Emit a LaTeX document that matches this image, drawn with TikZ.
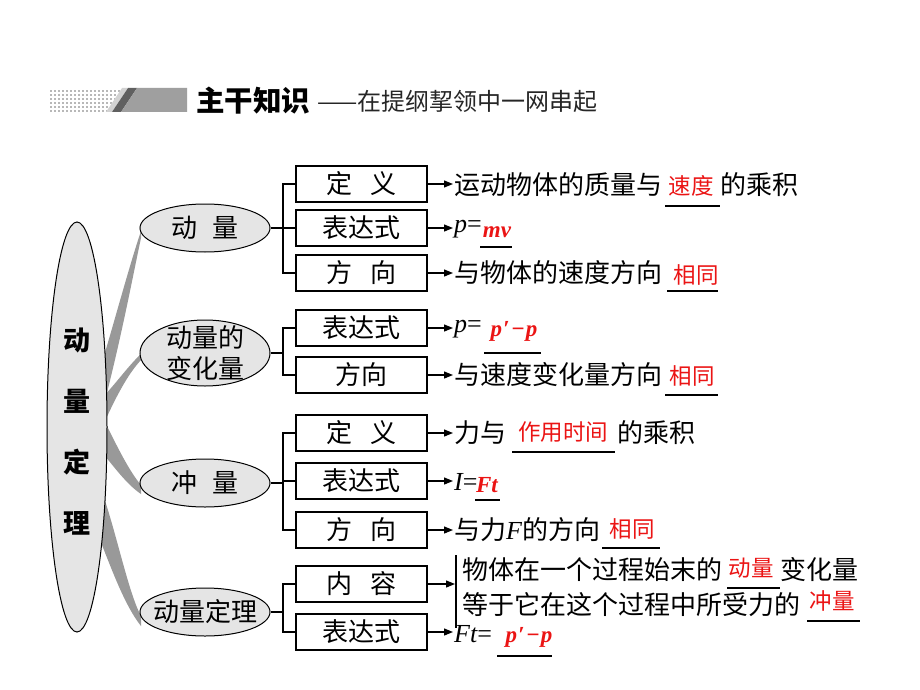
\documentclass[tikz,border=0pt]{standalone}
\usepackage{fontspec}
\setmainfont{Liberation Serif}
\newfontfamily\cjk{Noto Sans CJK SC}
\usetikzlibrary{shapes.geometric,arrows.meta}
\definecolor{ansred}{RGB}{235,20,20}
\definecolor{ellfill}{gray}{0.9}
\definecolor{wedgec}{gray}{0.6}
\definecolor{dotc}{gray}{0.72}
\begin{document}
\begin{tikzpicture}[x=1pt,y=-1pt,
  cjkt/.style={font=\cjk\fontsize{26}{30}\selectfont, inner sep=0pt},
  stepbox/.style={draw, line width=1.2pt, fill=white, minimum width=131pt, minimum height=36pt, inner sep=0pt, cjkt},
  subell/.style={ellipse, draw, line width=1pt, fill=ellfill, minimum width=130pt, inner sep=0pt},
  txt/.style={cjkt, anchor=west},
  lat/.style={font=\rmfamily\fontsize{26}{30}\selectfont, inner sep=0pt, anchor=west},
  ans/.style={font=\cjk\fontsize{22.5}{26}\selectfont, text=ansred, inner sep=0pt},
  anslat/.style={font=\rmfamily\bfseries\itshape\fontsize{23}{26}\selectfont, text=ansred, inner sep=0pt},
  blank/.style={line width=1.1pt},
  arr/.style={line width=1.2pt, -{Triangle[length=9pt,width=7pt]}, shorten >=1pt},
  br/.style={line width=1.1pt}
]
\useasboundingbox (0,0) rectangle (920,690);
\fill[white] (0,0) rectangle (920,690);

% ---------- header ----------
\foreach \xx in {50,54,...,118} {
  \foreach \yy in {90,94,...,110} {
    \fill[dotc] (\xx,\yy) rectangle ++(2.4,1.6);
  }
}
\fill[gray!35] (106,112) -- (112,112) -- (128,88) -- (122,88) -- cycle;
\fill[gray!75!black] (112,112) -- (121,112) -- (137,88) -- (128,88) -- cycle;
\fill[gray!75] (121,112) -- (187,112) -- (187,88) -- (137,88) -- cycle;
\node[anchor=west, font=\cjk\bfseries\fontsize{28.5}{32}\selectfont, inner sep=0pt] (h1) at (196,101) {主干知识};
\node[anchor=west, font=\cjk\fontsize{24}{28}\selectfont, inner sep=0pt, text=black!85] (h2) at (317,101) {——在提纲挈领中一网串起};

% ---------- wedges ----------
\fill[wedgec] (98,376) .. controls (115,320) and (128,270) .. (141,231) -- (141,238) .. controls (132,280) and (121,340) .. (101,416) -- cycle;
\fill[wedgec] (100,400) .. controls (115,385) and (128,366) .. (141,354) -- (141,360) .. controls (128,374) and (116,396) .. (101,430) -- cycle;
\fill[wedgec] (100,412) .. controls (114,440) and (128,470) .. (141,485) -- (141,494) .. controls (126,484) and (112,464) .. (100,450) -- cycle;
\fill[wedgec] (100,486) .. controls (116,530) and (128,592) .. (141,616) -- (141,626) .. controls (125,606) and (112,570) .. (100,540) -- cycle;

% ---------- main ellipse ----------
\node[ellipse, draw, line width=1pt, fill=ellfill, minimum width=60pt, minimum height=410pt, inner sep=0pt] (main) at (77,427) {};
\node[font=\cjk\bfseries\fontsize{27}{61}\selectfont, align=center, inner sep=0pt] (maint) at (77,432) {动\\量\\定\\理};

% ---------- sub ellipses ----------
\node[subell, minimum height=48pt] (s1) at (205,228) {};
\node[cjkt] (s1t) at (s1) {动\hspace{0.6em}量};
\node[subell, minimum height=66pt] (s2) at (205,353) {};
\node[cjkt, align=center, font=\cjk\fontsize{26}{31}\selectfont] (s2t) at (s2) {动量的\\变化量};
\node[subell, minimum height=48pt] (s3) at (205,483) {};
\node[cjkt] (s3t) at (s3) {冲\hspace{0.6em}量};
\node[subell, minimum height=48pt] (s4) at (205,612) {};
\node[cjkt] (s4t) at (s4) {动量定理};

% ---------- boxes ----------
\node[stepbox] (b11) at (361.5,184) {定\hspace{0.7em}义};
\node[stepbox] (b12) at (361.5,228) {表达式};
\node[stepbox] (b13) at (361.5,273) {方\hspace{0.7em}向};
\node[stepbox] (b21) at (361.5,328) {表达式};
\node[stepbox] (b22) at (361.5,375) {方向};
\node[stepbox] (b31) at (361.5,433) {定\hspace{0.7em}义};
\node[stepbox] (b32) at (361.5,481) {表达式};
\node[stepbox] (b33) at (361.5,530) {方\hspace{0.7em}向};
\node[stepbox] (b41) at (361.5,584) {内\hspace{0.7em}容};
\node[stepbox] (b42) at (361.5,632) {表达式};

% ---------- brackets ----------
\coordinate (j1) at (283,228);
\coordinate (j2) at (283,353);
\coordinate (j3) at (283,483);
\coordinate (j4) at (283,612);
\draw[br] (s1.east) -- (j1);
\draw[br] (b11.west) -| (j1) |- (b13.west);
\draw[br] (j1) -- (b12.west);
\draw[br] (s2.east) -- (j2);
\draw[br] (b21.west) -| (j2) |- (b22.west);
\draw[br] (s3.east) -- (j3);
\draw[br] (b31.west) -| (j3) |- (b33.west);
\draw[br] (b32.west) -- (b32.west -| j3);
\draw[br] (s4.east) -- (j4);
\draw[br] (b41.west) -| (j4) |- (b42.west);

% ---------- group 1 ----------
\node[txt] (t11) at (454,185) {运动物体的质量与};
\node[ans] (a11) at (691,186) {速度};
\draw[blank] (665,206) -- (720,206);
\node[txt] (t11b) at (720,185) {的乘积};
\draw[arr] (b11.east) -- (b11.east -| t11.west);

\node[lat] (t12) at (454,229) {\itshape p\upshape =};
\node[anslat] (a12) at (497,232) {mv};
\draw[blank] (480,247) -- (512,247);
\draw[arr] (b12.east) -- (b12.east -| t12.west);

\node[txt] (t13) at (454,273) {与物体的速度方向};
\node[ans] (a13) at (696,275) {相同};
\draw[blank] (667,291) -- (718,291);
\draw[arr] (b13.east) -- (b13.east -| t13.west);

% ---------- group 2 ----------
\node[lat] (t21) at (454,329) {\itshape p\upshape =};
\node[anslat] (a21) at (514,331) {p\kern1pt′\kern2pt\upshape −\kern1pt\itshape p};
\draw[blank] (484,353) -- (541,353);
\draw[arr] (b21.east) -- (b21.east -| t21.west);

\node[txt] (t22) at (454,375) {与速度变化量方向};
\node[ans] (a22) at (692,376) {相同};
\draw[blank] (665,395) -- (718,395);
\draw[arr] (b22.east) -- (b22.east -| t22.west);

% ---------- group 3 ----------
\node[txt] (t31) at (454,433) {力与};
\node[ans] (a31) at (563,432) {作用时间};
\draw[blank] (512,452) -- (615,452);
\node[txt] (t31b) at (617,433) {的乘积};
\draw[arr] (b31.east) -- (b31.east -| t31.west);

\node[lat] (t32) at (454,482) {\itshape I\upshape =};
\node[anslat] (a32) at (487,485) {Ft};
\draw[blank] (475,500) -- (500,500);
\draw[arr] (b32.east) -- (b32.east -| t32.west);

\node[txt] (t33) at (454,530) {与力{\rmfamily\itshape F}的方向};
\node[ans] (a33) at (632,529) {相同};
\draw[blank] (602,548) -- (660,548);
\draw[arr] (b33.east) -- (b33.east -| t33.west);

% ---------- group 4 ----------
\coordinate (bar1) at (456,555);
\coordinate (bar2) at (456,628);
\draw[line width=1.1pt] (bar1) -- (bar2);
\draw[arr] (b41.east) -- (b41.east -| bar1);
\node[txt] (t41) at (462,570) {物体在一个过程始末的};
\node[ans] (a41) at (751,568) {动量};
\draw[blank] (727,588) -- (780,588);
\node[txt] (t41b) at (780,570) {变化量};
\node[txt] (t42) at (462,605) {等于它在这个过程中所受力的};
\node[ans] (a42) at (832,601) {冲量};
\draw[blank] (807,621) -- (860,621);

\node[lat] (t43) at (454,634) {\itshape Ft\upshape =};
\node[anslat] (a43) at (529,637) {p\kern1pt′\kern2pt\upshape −\kern1pt\itshape p};
\draw[blank] (497,656) -- (552,656);
\draw[arr] (b42.east) -- (b42.east -| t43.west);
\end{tikzpicture}
\end{document}
